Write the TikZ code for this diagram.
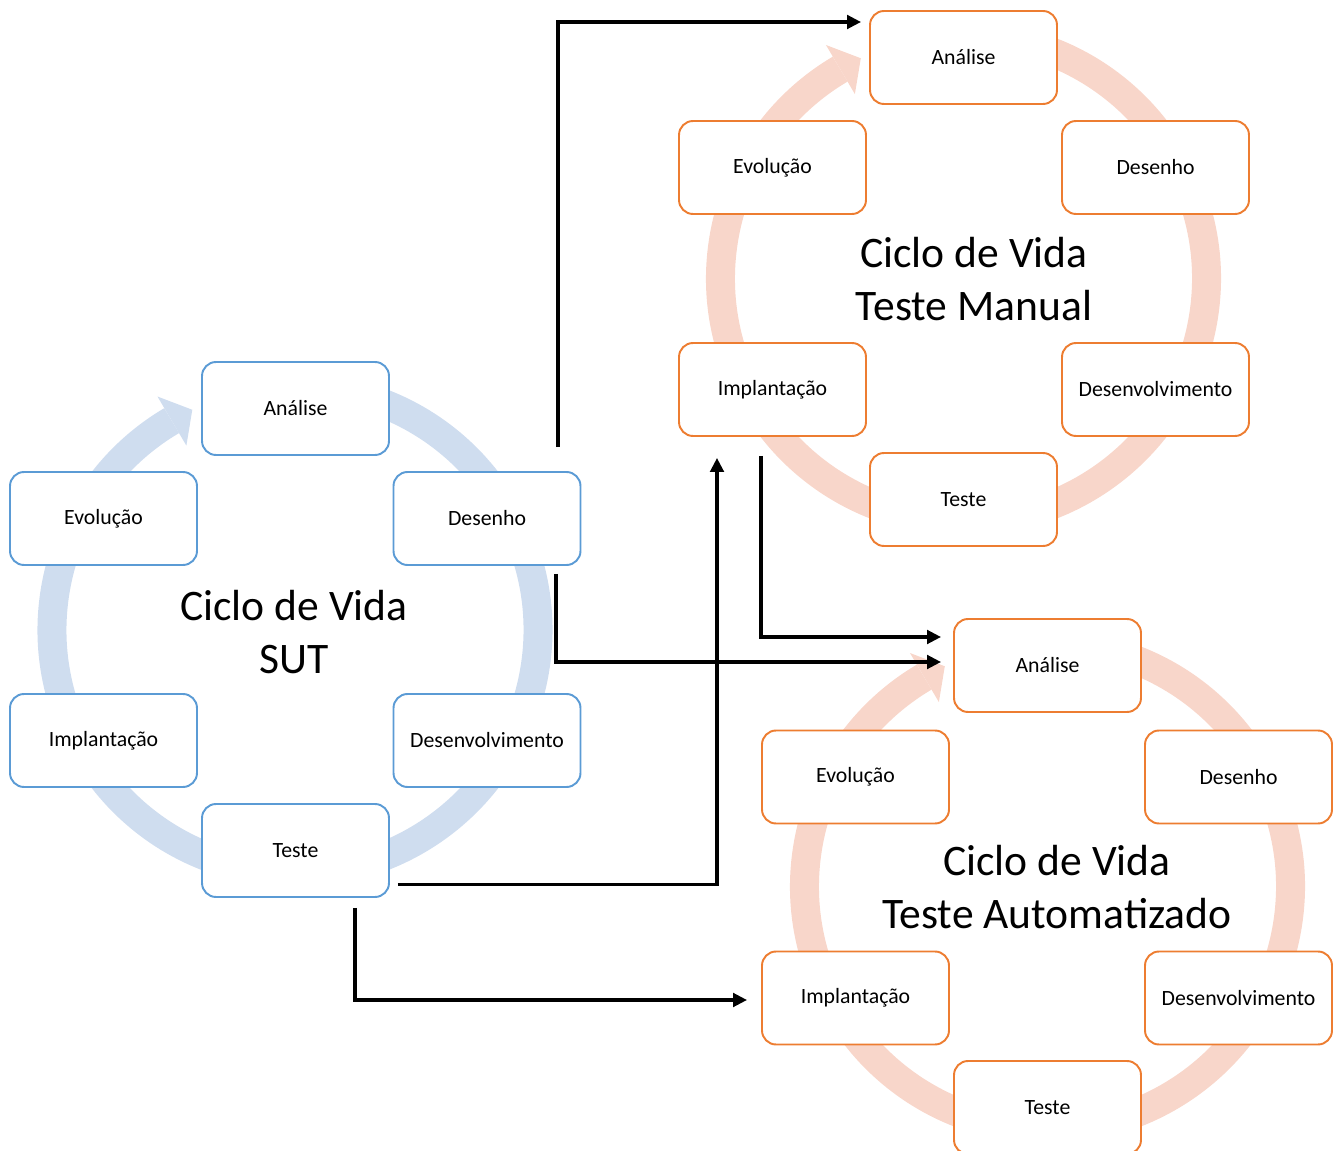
\documentclass[tikz,border=0pt]{standalone}
\usepackage{fontspec}
\setmainfont{Carlito}
\usetikzlibrary{arrows.meta}
\definecolor{bluebox}{RGB}{91,155,213}
\definecolor{bluering}{RGB}{207,221,239}
\definecolor{orangebox}{RGB}{237,125,49}
\definecolor{orangering}{RGB}{248,214,202}
\begin{document}
\begin{tikzpicture}[x=0.02cm,y=0.02cm,
  stage/.style={draw, line width=1.1pt, rounded corners=0.28cm, fill=white,
    minimum width=3.74cm, minimum height=1.86cm, inner sep=0pt,
    font=\fontsize{12.4}{15}\selectfont},
  sutbox/.style={stage, draw=bluebox},
  tstbox/.style={stage, draw=orangebox},
  title/.style={align=center, font=\fontsize{24.8}{30.2}\selectfont, inner sep=0pt},
  conn/.style={line width=1.9pt, -{Triangle[length=0.28cm,width=0.27cm]}},
  ringline/.style={line width=0.58cm}
]
\clip (0,0) rectangle (1336,-1151);

% rings
\begin{scope}[shift={(295,-630)}]
  \draw[bluering, ringline] (80:243) arc[start angle=80, end angle=-239.5, radius=243];
  \fill[bluering] (120.5:271) -- (115:243) -- (120.5:214) -- cycle;
\end{scope}
\begin{scope}[shift={(963.5,-278.5)}]
  \draw[orangering, ringline] (80:243) arc[start angle=80, end angle=-239.5, radius=243];
  \fill[orangering] (120.5:271) -- (115:243) -- (120.5:214) -- cycle;
\end{scope}
\begin{scope}[shift={(1047.5,-886.5)}]
  \draw[orangering, ringline] (80:243) arc[start angle=80, end angle=-239.5, radius=243];
  \fill[orangering] (120.5:271) -- (115:243) -- (120.5:214) -- cycle;
\end{scope}

% SUT cycle
\node[sutbox] (sA)  at (295.5,-408.5) {Análise};
\node[sutbox] (sEv) at (103.5,-518.5) {Evolução};
\node[sutbox] (sD)  at (487,-518.5)   {Desenho};
\node[sutbox] (sI)  at (103.5,-740.5) {Implantação};
\node[sutbox] (sDv) at (487,-740.5)   {Desenvolvimento};
\node[sutbox] (sT)  at (295.5,-850.5) {Teste};
\node[title] (sTitle) at (294,-632) {Ciclo de Vida\\SUT};

% Manual test cycle
\node[tstbox] (mA)  at (963.5,-57.5)   {Análise};
\node[tstbox] (mEv) at (772.5,-167.5)  {Evolução};
\node[tstbox] (mD)  at (1155.5,-167.5) {Desenho};
\node[tstbox] (mI)  at (772.5,-389.5)  {Implantação};
\node[tstbox] (mDv) at (1155.5,-389.5) {Desenvolvimento};
\node[tstbox] (mT)  at (963.5,-499.5)  {Teste};
\node[title] (mTitle) at (974,-279) {Ciclo de Vida\\Teste Manual};

% Automated test cycle
\node[tstbox] (aA)  at (1047.5,-665.5) {Análise};
\node[tstbox] (aEv) at (855.5,-777)    {Evolução};
\node[tstbox] (aD)  at (1238.5,-777)   {Desenho};
\node[tstbox] (aI)  at (855.5,-998)    {Implantação};
\node[tstbox] (aDv) at (1238.5,-998)   {Desenvolvimento};
\node[tstbox] (aT)  at (1047.5,-1107.5) {Teste};
\node[title] (aTitle) at (1057,-887) {Ciclo de Vida\\Teste Automatizado};

% connectors
\draw[conn] ([shift={(71,24)}]sD.north) |- ([shift={(-8,35.5)}]mA.west);
\draw[conn] ([shift={(69,-8)}]sD.south) |- ([shift={(-12,3.5)}]aA.west);
\draw[conn] ([shift={(-11.5,-19)}]mI.south) |- ([shift={(-12,28.5)}]aA.west);
\draw[conn] ([shift={(8,-34)}]sT.east) -| ([shift={(-55.5,-21)}]mI.south);
\draw[conn] ([shift={(59.5,-10)}]sT.south) |- ([shift={(-14,-2)}]aI.west);
\end{tikzpicture}
\end{document}
